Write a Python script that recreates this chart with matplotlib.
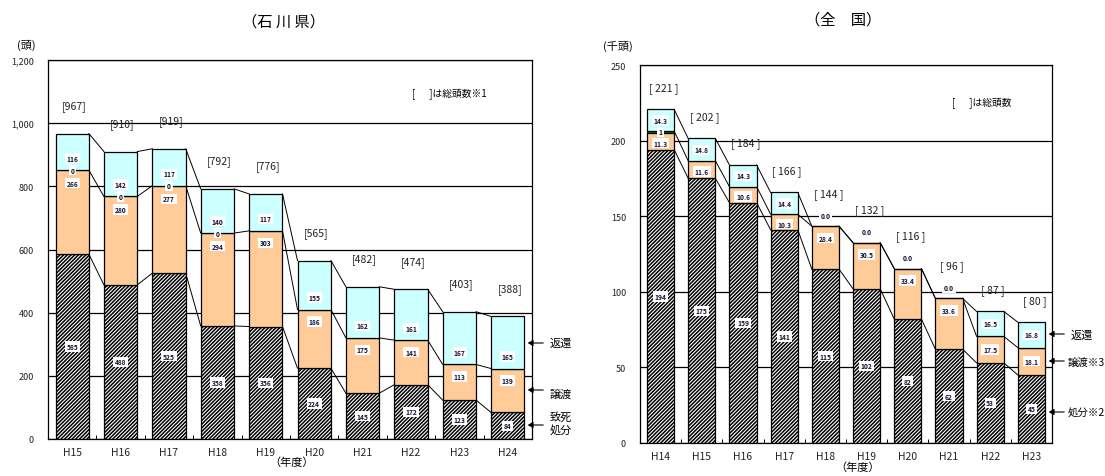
import matplotlib
matplotlib.use('Agg')
import matplotlib.pyplot as plt
import numpy as np
from matplotlib.ticker import FuncFormatter, FixedLocator

plt.rcParams['font.family'] = ['Noto Sans CJK JP', 'DejaVu Sans']
plt.rcParams['hatch.linewidth'] = 1.1

W, H = 1105, 477

# ---------------- data: Ishikawa prefecture (head) ----------------
pref_years = ['H15', 'H16', 'H17', 'H18', 'H19', 'H20', 'H21', 'H22', 'H23', 'H24']
pref_kill = [585, 488, 525, 358, 356, 224, 145, 172, 123, 84]
pref_transfer = [266, 280, 277, 294, 303, 186, 175, 141, 113, 139]
pref_other = [0, 0, 0, 0, None, None, None, None, None, None]
pref_return = [116, 142, 117, 140, 117, 155, 162, 161, 167, 165]
pref_total = [967, 910, 919, 792, 776, 565, 482, 474, 403, 388]
pref_yticks = [0, 200, 400, 600, 800, 1000, 1200]

# ---------------- data: national (thousand head) ----------------
nat_years = ['H14', 'H15', 'H16', 'H17', 'H18', 'H19', 'H20', 'H21', 'H22', 'H23']
nat_kill = [194, 175, 159, 141, 115, 102, 82, 62, 53, 45]
nat_transfer = [11.3, 11.6, 10.6, 10.3, 28.4, 30.5, 33.4, 33.6, 17.5, 18.1]
nat_other = [1, None, None, None, None, None, None, None, None, None]
nat_return = [14.3, 14.8, 14.3, 14.4, 0.0, 0.0, 0.0, 0.0, 16.5, 16.8]
nat_total = [221, 202, 184, 166, 144, 132, 116, 96, 87, 80]
nat_yticks = [0, 50, 100, 150, 200, 250]

C_RETURN = '#CCFFFF'
C_TRANSFER = '#FFCC99'
C_OTHER = '#006600'

fig = plt.figure(figsize=(W / 100, H / 100), dpi=100)


def fx(x):
    return x / W


def fy(y):
    return 1 - y / H


def box(ax, txt, x, y, dy=0, fs=4.8):
    ax.annotate(txt, xy=(x, y), xytext=(0, dy), textcoords='offset pixels',
                ha='center', va='center', fontsize=fs, fontweight='bold',
                color='#111133', zorder=6, annotation_clip=False,
                bbox=dict(boxstyle='square,pad=0.25', fc='white', ec='none'))


def draw(ax, years, kill, transfer, other, ret, total, yticks, width, national):
    n = len(years)
    x = np.arange(n)
    oth = np.array([o if o is not None else 0 for o in other], dtype=float)
    kill = np.array(kill, dtype=float)
    transfer = np.array(transfer, dtype=float)
    ret = np.array(ret, dtype=float)
    ax.set_axisbelow(True)
    ax.bar(x, kill, width, color='white', edgecolor='black', hatch='/////////',
           linewidth=0.9, zorder=3)
    ax.bar(x, transfer, width, bottom=kill, color=C_TRANSFER,
           edgecolor='black', linewidth=0.9, zorder=3)
    ax.bar(x, oth, width, bottom=kill + transfer, color=C_OTHER,
           edgecolor='black', linewidth=0.6, zorder=3)
    ax.bar(x, ret, width, bottom=kill + transfer + oth, color=C_RETURN,
           edgecolor='black', linewidth=0.9, zorder=3)
    b1 = kill
    b2 = kill + transfer + oth
    b3 = kill + transfer + oth + ret
    # series lines between neighbouring bars
    for b in (b1, b2, b3):
        for i in range(n - 1):
            ax.plot([x[i] + width / 2, x[i + 1] - width / 2], [b[i], b[i + 1]],
                    color='black', lw=0.7, zorder=2)
    # labels
    for i in range(n):
        box(ax, f'{kill[i]:.0f}', x[i], kill[i] / 2)
        if not national:
            top_tr = kill[i] + transfer[i]
            if other[i] is not None:
                box(ax, f'{ret[i]:.0f}', x[i], top_tr, 12)
                box(ax, f'{oth[i]:.0f}', x[i], top_tr, 0)
                box(ax, f'{transfer[i]:.0f}', x[i], top_tr, -13)
            else:
                box(ax, f'{ret[i]:.0f}', x[i], top_tr, 12)
                box(ax, f'{transfer[i]:.0f}', x[i], top_tr, -12)
            ax.annotate(f'[{total[i]}]', xy=(x[i], b3[i]), xytext=(2, 28),
                        textcoords='offset pixels', ha='center', va='center',
                        fontsize=7.5, color='#222222')
        else:
            if ret[i] > 0:
                box(ax, f'{ret[i]:.1f}', x[i], b2[i] + ret[i] / 2)
                dtop = 22
            else:
                box(ax, f'{ret[i]:.1f}', x[i], b3[i], 11)
                dtop = 33
            if other[i] is not None:
                box(ax, f'{oth[i]:.0f}', x[i], kill[i] + transfer[i] + oth[i] / 2)
            if ret[i] > 0 and transfer[i] < 15:
                box(ax, f'{transfer[i]:.1f}', x[i], kill[i] + transfer[i] / 2, -2)
            elif ret[i] > 0:
                box(ax, f'{transfer[i]:.1f}', x[i], kill[i] + transfer[i] / 2)
            else:
                box(ax, f'{transfer[i]:.1f}', x[i], kill[i] + transfer[i], -12)
            ax.annotate(f'[ {total[i]} ]', xy=(x[i], b3[i]), xytext=(3, dtop),
                        textcoords='offset pixels', ha='center', va='center',
                        fontsize=7.5, color='#222222')
    ax.set_xlim(-0.5, n - 0.5)
    ax.set_ylim(yticks[0], yticks[-1])
    ax.set_yticks(yticks)
    ax.yaxis.grid(True, color='black', lw=0.9)
    ax.set_xticks(x)
    ax.set_xticklabels(years, fontsize=7.5, color='#222222')
    ax.xaxis.set_minor_locator(FixedLocator(np.arange(n + 1) - 0.5))
    ax.tick_params(axis='x', which='major', length=0, pad=6)
    ax.tick_params(axis='x', which='minor', direction='in', length=3, width=0.7)
    ax.tick_params(axis='y', length=0, pad=10, labelsize=6.5, labelcolor='#222222')
    for s in ax.spines.values():
        s.set_linewidth(0.9)
        s.set_color('black')


# ---------------- left: Ishikawa ----------------
axL = fig.add_axes([fx(48), fy(440), (532 - 48) / W, (440 - 61) / H])
draw(axL, pref_years, pref_kill, pref_transfer, pref_other, pref_return,
     pref_total, pref_yticks, 0.69, False)
axL.yaxis.set_major_formatter(FuncFormatter(lambda v, p: f'{v:,.0f}'))

# ---------------- right: national ----------------
axR = fig.add_axes([fx(640), fy(444), (1052 - 640) / W, (444 - 66) / H])
draw(axR, nat_years, nat_kill, nat_transfer, nat_other, nat_return,
     nat_total, nat_yticks, 0.66, True)

# titles and units
fig.text(fx(283), fy(22), '（石 川 県）', ha='center', va='center', fontsize=11)
fig.text(fx(843), fy(20), '（全　国）', ha='center', va='center', fontsize=11)
fig.text(fx(26), fy(45), '(頭)', ha='center', va='center', fontsize=8)
fig.text(fx(618), fy(46), '(千頭)', ha='center', va='center', fontsize=8)
fig.text(fx(292), fy(463), '（年度）', ha='center', va='center', fontsize=8)
fig.text(fx(858), fy(468), '（年度）', ha='center', va='center', fontsize=8)
fig.text(fx(412), fy(94), '[　  ]は総頭数※1', ha='left', va='center', fontsize=7)
fig.text(fx(952), fy(103), '[　  ]は総頭数', ha='left', va='center', fontsize=7)


# legend arrows
def arrow(x0, x1, y):
    fig.add_artist(matplotlib.patches.FancyArrowPatch(
        (fx(x0), fy(y)), (fx(x1), fy(y)), transform=fig.transFigure,
        arrowstyle='-|>,head_length=3,head_width=1.8', lw=0.8, color='black',
        mutation_scale=1))


arrow(546, 525, 344)
fig.text(fx(550), fy(344), '返還', ha='left', va='center', fontsize=8)
arrow(546, 525, 391)
fig.text(fx(550), fy(395), '譲渡', ha='left', va='center', fontsize=8)
arrow(546, 525, 426)
fig.text(fx(550), fy(417), '致死', ha='left', va='center', fontsize=8)
fig.text(fx(550), fy(430), '処分', ha='left', va='center', fontsize=8)

arrow(1067, 1046, 335)
fig.text(fx(1071), fy(336), '返還', ha='left', va='center', fontsize=8)
arrow(1067, 1046, 362)
fig.text(fx(1068), fy(363), '譲渡※3', ha='left', va='center', fontsize=7.5)
arrow(1067, 1046, 413)
fig.text(fx(1068), fy(414), '処分※2', ha='left', va='center', fontsize=7.5)

fig.savefig('out.png', dpi=100)
